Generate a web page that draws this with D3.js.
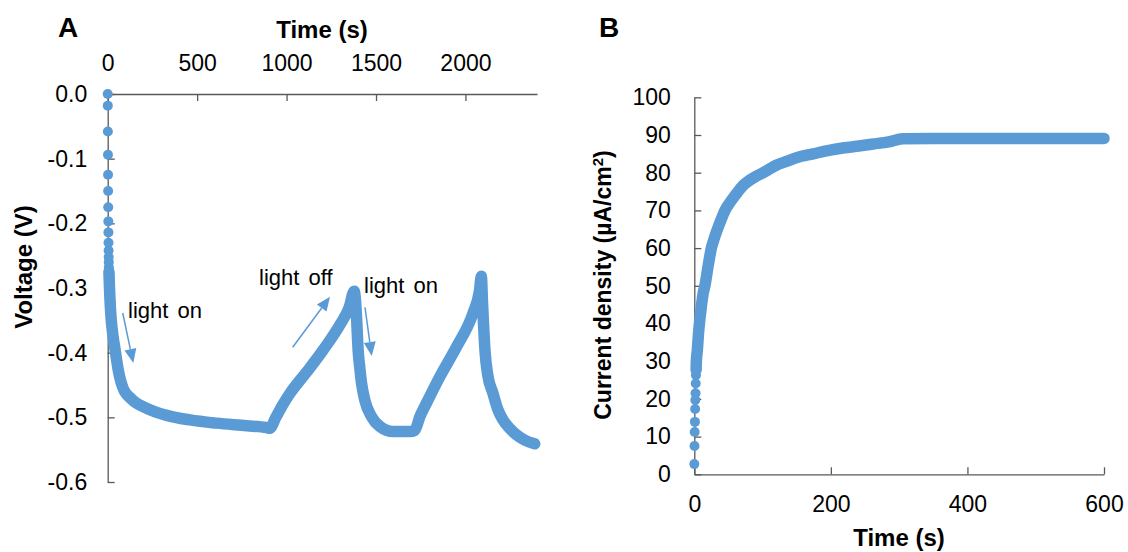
<!DOCTYPE html>
<html><head><meta charset="utf-8">
<script src="https://cdn.jsdelivr.net/npm/d3@7"></script>
<style>
body{margin:0;background:#fff;}
svg text{font-family:"Liberation Sans",Arial,sans-serif;fill:#000;}
</style></head>
<body><svg id="c" width="1128" height="552"></svg>
<script>
// ---------- Panel A data: voltage (V) vs time (s) ----------
const aStartTime = [0,0.5,1,1.5,2,2.5,3,3.5,4,4.5,5,5.5,6,6.5,7];
const aStartVolt = [0,-0.018,-0.058,-0.094,-0.125,-0.150,-0.175,-0.197,-0.214,-0.230,-0.242,-0.252,-0.260,-0.268,-0.275];
const aTime = [7,10,15,20,30,41,59,86,134,218,330,460,609,777,888,906,
  940,980,1019,1112,1204,1298,1350,1378,
  1388,1392,1400,1410,1419,1437,1475,1521,1596,1689,
  1717,1745,1782,1857,1950,2042,2078,2089,
  2095,2100,2110,2125,2154,2180,2210,2250,2285,2330,2387];
const aVolt = [-0.275,-0.300,-0.330,-0.350,-0.375,-0.395,-0.427,-0.455,-0.472,-0.486,-0.497,-0.504,-0.509,-0.513,-0.516,-0.517,
  -0.500,-0.480,-0.463,-0.430,-0.396,-0.357,-0.330,-0.305,
  -0.330,-0.350,-0.396,-0.425,-0.447,-0.473,-0.499,-0.514,-0.522,-0.522,
  -0.520,-0.499,-0.478,-0.437,-0.391,-0.339,-0.305,-0.282,
  -0.320,-0.350,-0.400,-0.435,-0.463,-0.487,-0.504,-0.518,-0.527,-0.535,-0.541];
const aXTicks = [0,500,1000,1500,2000];
const aYTicks = [0,-0.1,-0.2,-0.3,-0.4,-0.5,-0.6];

// ---------- Panel B data: current density (uA/cm2) vs time (s) ----------
const bStartTime = [0,0.3,0.6,0.9,1.2,1.5,1.8,2.1,2.4,2.7];
const bStartJ = [2.7,7.5,11.2,13.9,17.3,19.7,21.5,24.1,26.3,27.7];
const bTime = [2.7,3,4.5,6,7.5,10,13,15.5,20,25,30,37,45,55,64,72,81,90,101,120,135,150,174,199,220,238,262,285,305,350,400,450,500,550,600];
const bJ = [27.7,30,33,37,40,44,48,50,55,60,63,66.5,70,72.8,75,76.7,78,79,80,82,83,84,85,86,86.6,87,87.6,88.2,89,89.1,89.1,89.1,89.1,89.1,89.1];
const bXTicks = [0,200,400,600];
const bYTicks = [0,10,20,30,40,50,60,70,80,90,100];

const blue = "#5B9BD5", axisCol = "#595959";
const svg = d3.select("#c");

function styleAxis(g){
  g.selectAll("path.domain").attr("stroke",axisCol).attr("stroke-width",1.3);
  g.selectAll(".tick line").attr("stroke",axisCol).attr("stroke-width",1.3);
  g.selectAll(".tick text").style("font-size","23px").attr("fill","#000");
}

function drawSeries(g, x, y, st, sv, mt, mv){
  const pts = mt.map((t,i)=>[t,mv[i]]);
  const line = d3.line().x(d=>x(d[0])).y(d=>y(d[1])).curve(d3.curveMonotoneX);
  g.append("path").attr("d",line(pts)).attr("fill","none").attr("stroke",blue)
    .attr("stroke-width",11.5).attr("stroke-linecap","round").attr("stroke-linejoin","round");
  const dots = st.map((t,i)=>[t,sv[i]]).concat(pts);
  g.selectAll("circle.d").data(dots).join("circle").attr("class","d")
    .attr("cx",d=>x(d[0])).attr("cy",d=>y(d[1])).attr("r",5).attr("fill",blue);
}

// ---------- Panel A ----------
const ax = d3.scaleLinear().domain([0,2400]).range([107.7,537]);
const ay = d3.scaleLinear().domain([0,-0.6]).range([94,482]);
const gA = svg.append("g");
gA.append("g").attr("transform","translate(0,94)")
  .call(d3.axisTop(ax).tickValues(aXTicks).tickSizeInner(-7).tickSizeOuter(0).tickPadding(23).tickFormat(d=>String(d)))
  .call(styleAxis);
gA.append("g").attr("transform","translate(107.7,0)")
  .call(d3.axisLeft(ay).tickValues(aYTicks).tickSizeInner(-7).tickSizeOuter(0).tickPadding(20.5).tickFormat(d=>(Math.abs(d)<1e-9?0:d).toFixed(1)))
  .call(styleAxis);
drawSeries(gA, ax, ay, aStartTime, aStartVolt, aTime, aVolt);

gA.append("text").attr("x",322).attr("y",38).attr("text-anchor","middle")
  .style("font-size","24px").style("font-weight","bold").text("Time (s)");
gA.append("text").attr("transform","translate(32,267) rotate(-90)").attr("text-anchor","middle")
  .style("font-size","24px").style("font-weight","bold").text("Voltage (V)");
gA.append("text").attr("x",68).attr("y",37).attr("text-anchor","middle")
  .style("font-size","28px").style("font-weight","bold").text("A");

// annotations
const annTexts = ["light on","light off","light on"];
const annTextPos = [[128,318],[259,285],[364,292.5]];
const arrows = [[[122.7,313],[133.3,363]],[[292.7,347.3],[330,296.7]],[[365,307.3],[371.7,356]]];
annTexts.forEach((t,i)=>{
  gA.append("text").attr("x",annTextPos[i][0]).attr("y",annTextPos[i][1])
    .style("font-size","22px").style("word-spacing","3px").text(t);
});
arrows.forEach(a=>{
  const [p0,p1]=a; const dx=p1[0]-p0[0], dy=p1[1]-p0[1]; const L=Math.hypot(dx,dy);
  const ux=dx/L, uy=dy/L, hl=14, hw=6;
  const bx=p1[0]-ux*hl, by=p1[1]-uy*hl;
  gA.append("line").attr("x1",p0[0]).attr("y1",p0[1]).attr("x2",bx).attr("y2",by)
    .attr("stroke",blue).attr("stroke-width",1.5);
  gA.append("path").attr("d",`M${p1[0]},${p1[1]}L${bx-uy*hw},${by+ux*hw}L${bx+uy*hw},${by-ux*hw}Z`).attr("fill",blue);
});

// ---------- Panel B ----------
const bx = d3.scaleLinear().domain([0,600]).range([694.3,1104]);
const by = d3.scaleLinear().domain([0,100]).range([474.3,97.3]);
const gB = svg.append("g");
gB.append("g").attr("transform","translate(0,474.3)")
  .call(d3.axisBottom(bx).tickValues(bXTicks).tickSizeInner(-7).tickSizeOuter(0).tickPadding(21).tickFormat(d=>String(d)))
  .call(styleAxis);
gB.append("g").attr("transform","translate(694.3,0)")
  .call(d3.axisLeft(by).tickValues(bYTicks).tickSizeInner(-7).tickSizeOuter(0).tickPadding(23.5).tickFormat(d=>String(d)))
  .call(styleAxis);
drawSeries(gB, bx, by, bStartTime, bStartJ, bTime, bJ);

gB.append("text").attr("x",899).attr("y",546).attr("text-anchor","middle")
  .style("font-size","24px").style("font-weight","bold").text("Time (s)");
const yl = gB.append("text").attr("transform","translate(611,285) rotate(-90)").attr("text-anchor","middle")
  .style("font-size","23px").style("font-weight","bold");
yl.append("tspan").text("Current density (µA/cm");
yl.append("tspan").attr("dy","-8").style("font-size","15px").text("2");
yl.append("tspan").attr("dy","8").text(")");
gB.append("text").attr("x",609).attr("y",37).attr("text-anchor","middle")
  .style("font-size","28px").style("font-weight","bold").text("B");
</script></body></html>
